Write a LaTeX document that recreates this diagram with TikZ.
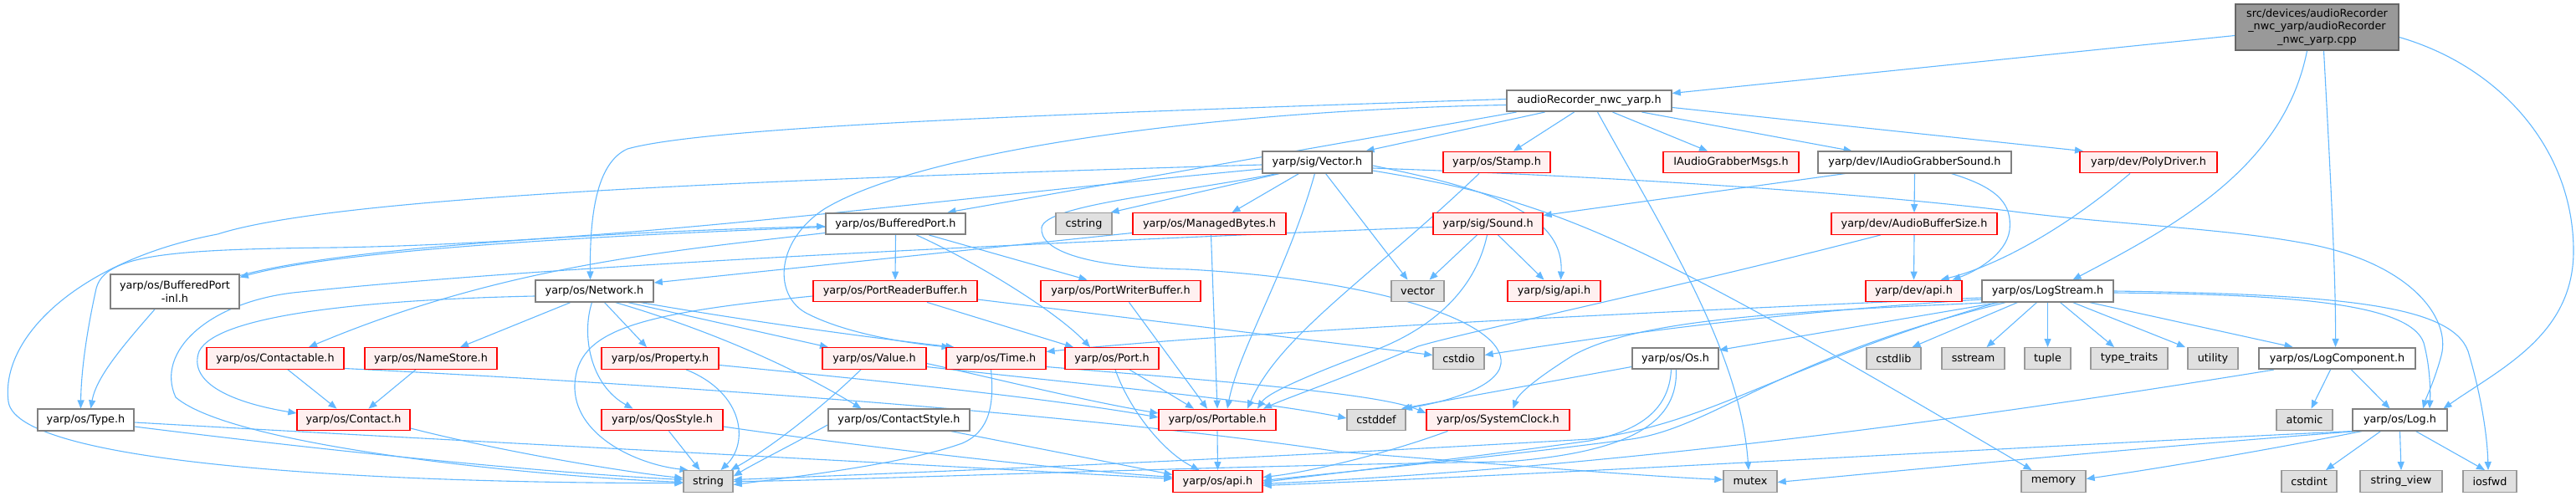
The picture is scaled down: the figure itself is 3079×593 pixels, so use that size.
\documentclass[tikz,border=0pt]{standalone}
\usepackage{fontspec}
\setmainfont{DejaVu Sans}
\usetikzlibrary{arrows.meta,backgrounds}
\definecolor{edgec}{HTML}{63B8FF}
\definecolor{gborder}{HTML}{808080}
\definecolor{rootfill}{HTML}{999999}
\definecolor{rootborder}{HTML}{666666}
\definecolor{redfill}{HTML}{FFF0F0}
\definecolor{sysfill}{HTML}{E0E0E0}
\definecolor{sysborder}{HTML}{999999}
\newcommand\dxfont{\fontsize{12.8}{15.4}\selectfont}
\tikzset{
  box/.style={draw, minimum height=25.5pt, inner sep=0pt, font=\dxfont, text=black},
  filenode/.style={box, draw=gborder, line width=1.6pt, fill=white},
  rednode/.style={box, draw=red, line width=1.3pt, fill=redfill},
  sysnode/.style={box, draw=sysborder, line width=1.4pt, fill=sysfill},
  rootnode/.style={box, draw=rootborder, line width=1.6pt, fill=rootfill, minimum height=55pt, align=center},
  inc/.style={draw=edgec, line width=1.1pt, -{Triangle[length=10pt,width=8pt]}}
}
\begin{document}
\begin{tikzpicture}[x=1pt,y=-1pt]
\useasboundingbox (0,0) rectangle (3079,593);
% row 0
\node[rootnode, minimum width=195pt] (cpp) at (2769.5,32.5) {src/devices/audioRecorder\\\_nwc\_yarp/audioRecorder\\\_nwc\_yarp.cpp};
% row 1
\node[filenode, minimum width=197pt] (ar) at (1899.5,120.5) {audioRecorder\_nwc\_yarp.h};
% row 2
\node[filenode, minimum width=131pt] (vec) at (1574.5,194) {yarp/sig/Vector.h};
\node[rednode, minimum width=128pt] (stamp) at (1789,194) {yarp/os/Stamp.h};
\node[rednode, minimum width=162pt] (iagm) at (2069,194) {IAudioGrabberMsgs.h};
\node[filenode, minimum width=231pt] (iags) at (2288.5,194) {yarp/dev/IAudioGrabberSound.h};
\node[rednode, minimum width=164pt] (poly) at (2568,194) {yarp/dev/PolyDriver.h};
% row 3
\node[filenode, minimum width=167pt] (bp) at (1070.5,267.5) {yarp/os/BufferedPort.h};
\node[sysnode, minimum width=67pt] (cstring) at (1295.5,267.5) {cstring};
\node[rednode, minimum width=183pt] (mb) at (1445.5,267.5) {yarp/os/ManagedBytes.h};
\node[rednode, minimum width=131pt] (sound) at (1778.5,267.5) {yarp/sig/Sound.h};
\node[rednode, minimum width=198pt] (abs) at (2288,267.5) {yarp/dev/AudioBufferSize.h};
% row 4
\node[filenode, minimum width=154pt, minimum height=41pt, align=center] (bpinl) at (209,348.5) {yarp/os/BufferedPort\\-inl.h};
\node[filenode, minimum width=141pt] (net) at (710.5,348) {yarp/os/Network.h};
\node[rednode, minimum width=196pt] (prb) at (1070,348) {yarp/os/PortReaderBuffer.h};
\node[rednode, minimum width=191pt] (pwb) at (1339.5,348) {yarp/os/PortWriterBuffer.h};
\node[sysnode, minimum width=63pt] (vector) at (1694.5,348) {vector};
\node[rednode, minimum width=111pt] (sigapi) at (1857.5,348) {yarp/sig/api.h};
\node[rednode, minimum width=115pt] (devapi) at (2287.5,348) {yarp/dev/api.h};
\node[filenode, minimum width=157pt] (ls) at (2447.5,348) {yarp/os/LogStream.h};
% row 5
\node[rednode, minimum width=164pt] (contactable) at (329,428.5) {yarp/os/Contactable.h};
\node[rednode, minimum width=158pt] (namestore) at (515,428.5) {yarp/os/NameStore.h};
\node[rednode, minimum width=140pt] (property) at (789,428.5) {yarp/os/Property.h};
\node[rednode, minimum width=124pt] (value) at (1045,428.5) {yarp/os/Value.h};
\node[rednode, minimum width=119pt] (time) at (1190.5,428.5) {yarp/os/Time.h};
\node[rednode, minimum width=112pt] (port) at (1329,428.5) {yarp/os/Port.h};
\node[sysnode, minimum width=61pt] (cstdio) at (1743.5,428.5) {cstdio};
\node[filenode, minimum width=103pt] (os) at (2002.5,428.5) {yarp/os/Os.h};
\node[sysnode, minimum width=65pt] (cstdlib) at (2263.5,428.5) {cstdlib};
\node[sysnode, minimum width=75pt] (sstream) at (2358.5,428.5) {sstream};
\node[sysnode, minimum width=55pt] (tuple) at (2447.5,428.5) {tuple};
\node[sysnode, minimum width=92pt] (typetraits) at (2545,428.5) {type\_traits};
\node[sysnode, minimum width=60pt] (utility) at (2645,428.5) {utility};
\node[filenode, minimum width=187pt] (lc) at (2793.5,428.5) {yarp/os/LogComponent.h};
% row 6
\node[filenode, minimum width=115pt] (type) at (102.5,502) {yarp/os/Type.h};
\node[rednode, minimum width=135pt] (contact) at (422.5,502) {yarp/os/Contact.h};
\node[rednode, minimum width=145pt] (qos) at (791.5,502) {yarp/os/QosStyle.h};
\node[filenode, minimum width=169pt] (cstyle) at (1074.5,502) {yarp/os/ContactStyle.h};
\node[rednode, minimum width=140pt] (portable) at (1455,502) {yarp/os/Portable.h};
\node[sysnode, minimum width=70pt] (cstddef) at (1645,502) {cstddef};
\node[rednode, minimum width=171pt] (sysclock) at (1790.5,502) {yarp/os/SystemClock.h};
\node[sysnode, minimum width=67pt] (atomic) at (2754.5,502) {atomic};
\node[filenode, minimum width=113pt] (log) at (2868.5,502) {yarp/os/Log.h};
% row 7
\node[sysnode, minimum width=59pt] (string) at (846.5,575.5) {string};
\node[rednode, minimum width=107pt] (osapi) at (1455.5,575.5) {yarp/os/api.h};
\node[sysnode, minimum width=64pt] (mutex) at (2092,575.5) {mutex};
\node[sysnode, minimum width=77pt] (memory) at (2454.5,575.5) {memory};
\node[sysnode, minimum width=66pt] (cstdint) at (2760,575.5) {cstdint};
\node[sysnode, minimum width=98pt] (strview) at (2870,575.5) {string\_view};
\node[sysnode, minimum width=64pt] (iosfwd) at (2976,575.5) {iosfwd};

\begin{scope}[on background layer]
% cpp
\draw[inc] ([yshift=-10pt]cpp.west) -- ([yshift=9pt]ar.east);
\draw[inc] ([xshift=-12pt]cpp.south) .. controls (2730,200) and (2600,270) .. ([xshift=30pt]ls.north);
\draw[inc] ([xshift=8pt]cpp.south) .. controls (2785,200) and (2792,330) .. ([xshift=-2pt]lc.north);
\draw[inc] ([yshift=-12pt]cpp.east) .. controls (2990,80) and (3076,180) .. (3076,300) .. controls (3076,400) and (2990,440) .. ([xshift=52pt]log.north);
% audioRecorder_nwc_yarp.h
\draw[inc] ([yshift=2pt]ar.west) .. controls (1300,135) and (850,150) .. (750,178) .. controls (712,195) and (705,260) .. ([xshift=-5pt]net.north);
\draw[inc] ([xshift=-87pt]ar.south) -- ([xshift=62pt]bp.north);
\draw[inc] ([xshift=-53pt]ar.south) -- ([xshift=58pt]vec.north);
\draw[inc] ([xshift=-18pt]ar.south) -- ([xshift=20pt]stamp.north);
\draw[inc] ([xshift=28pt]ar.south) -- ([xshift=-28pt]iagm.north);
\draw[inc] ([xshift=63pt]ar.south) -- ([xshift=-75pt]iags.north);
\draw[inc] ([yshift=-8pt]ar.east) -- ([xshift=-78pt]poly.north);
\draw[inc] ([xshift=10pt]ar.south) .. controls (1990,280) and (2080,420) .. ([xshift=-2pt]mutex.north);
\draw[inc] ([yshift=-5pt]ar.west) .. controls (1450,132) and (1100,180) .. (985,250) .. controls (925,290) and (925,355) .. (965,375) .. controls (1010,398) and (1080,410) .. ([xshift=-55pt]time.north);
% Vector.h
\draw[inc] ([yshift=-8pt]vec.west) .. controls (1100,240) and (750,290) .. (400,296) .. controls (200,298) and (125,305) .. (115,345) .. controls (105,390) and (97,440) .. ([xshift=-6pt]type.north);
\draw[inc] ([yshift=-3pt]vec.west) .. controls (900,215) and (400,235) .. (260,280) .. controls (100,310) and (0,400) .. (10,480) .. controls (20,560) and (500,578) .. ([yshift=-2pt]string.west);
\draw[inc] ([xshift=-45pt]vec.south) -- ([xshift=32pt]cstring.north);
\draw[inc] ([xshift=-22pt]vec.south) -- ([xshift=27pt]mb.north);
\draw[inc] ([xshift=-3pt]vec.south) .. controls (1540,320) and (1480,420) .. ([xshift=12pt]portable.north);
\draw[inc] ([xshift=10pt]vec.south) -- ([xshift=-12pt]vector.north);
\draw[inc] ([xshift=-48pt]vec.south) .. controls (1400,232) and (1250,245) .. (1245,272) .. controls (1242,300) and (1300,320) .. (1420,322) .. controls (1650,335) and (1800,385) .. (1794,435) .. controls (1790,465) and (1720,482) .. ([xshift=33pt]cstddef.north);
\draw[inc] ([yshift=-4pt]vec.east) .. controls (1760,222) and (1870,250) .. ([xshift=8pt]sigapi.north);
\draw[inc] ([yshift=-10pt]vec.east) .. controls (1860,240) and (1950,280) .. ([xshift=-26pt]memory.north);
\draw[inc] ([yshift=-7pt]vec.east) .. controls (1900,210) and (2200,228) .. (2400,252) .. controls (2520,268) and (2650,272) .. (2750,290) .. controls (2880,312) and (2930,380) .. (2918,425) .. controls (2910,455) and (2900,475) .. ([xshift=27.5pt]log.north);
% BufferedPort.h
\draw[inc] ([yshift=-4pt]bp.west) .. controls (700,282) and (400,300) .. ([yshift=17pt]bpinl.east);
\draw[inc] ([yshift=19pt]bpinl.east) .. controls (400,298) and (700,278) .. ([yshift=-3pt]bp.west);
\draw[inc] (bp.south) -- (prb.north);
\draw[inc] ([xshift=40pt]bp.south) -- ([xshift=-40pt]pwb.north);
\draw[inc] ([xshift=25pt]bp.south) .. controls (1160,310) and (1260,370) .. ([xshift=-26pt]port.north);
\draw[inc] ([yshift=-11pt]bp.west) .. controls (800,300) and (600,318) .. ([xshift=40pt]contactable.north);
\draw[inc] ([xshift=-24pt]bpinl.south) .. controls (150,410) and (115,450) .. ([xshift=6pt]type.north);
% PortReaderBuffer.h
\draw[inc] ([xshift=38pt]prb.south) -- ([xshift=-46pt]port.north);
\draw[inc] ([yshift=-10pt]prb.east) -- ([yshift=4pt]cstdio.west);
\draw[inc] ([yshift=-6pt]prb.west) .. controls (760,375) and (690,395) .. (687,460) .. controls (685,520) and (760,555) .. ([xshift=-24pt]string.north);
% PortWriterBuffer, Port, ManagedBytes, Stamp
\draw[inc] ([xshift=10pt]pwb.south) -- ([xshift=-12pt]portable.north);
\draw[inc] ([xshift=21pt]port.south) -- ([xshift=-28pt]portable.north);
\draw[inc] ([xshift=4pt]port.south) .. controls (1350,490) and (1390,540) .. ([xshift=-22pt]osapi.north);
\draw[inc] ([xshift=2pt]mb.south) -- (portable.north);
\draw[inc] ([yshift=-11pt]mb.west) -- ([yshift=10pt]net.east);
\draw[inc] ([xshift=-21pt]stamp.south) .. controls (1640,330) and (1530,400) .. ([xshift=36pt]portable.north);
% Sound.h
\draw[inc] ([xshift=-13pt]sound.south) -- ([xshift=14pt]vector.north);
\draw[inc] ([xshift=12pt]sound.south) -- ([xshift=-12pt]sigapi.north);
\draw[inc] ([xshift=-1pt]sound.south) .. controls (1765,340) and (1720,390) .. (1640,420) .. controls (1560,450) and (1515,470) .. ([xshift=48pt]portable.north);
\draw[inc] ([yshift=-4pt]sound.west) .. controls (1200,292) and (650,318) .. (350,350) .. controls (250,362) and (185,420) .. (210,475) .. controls (280,535) and (650,570) .. ([yshift=-1pt]string.west);
% IAudioGrabberSound.h, AudioBufferSize.h, PolyDriver.h
\draw[inc] (iags.south) -- (abs.north);
\draw[inc] ([xshift=44pt]iags.south) .. controls (2390,225) and (2405,245) .. (2402,275) .. controls (2398,305) and (2360,325) .. ([xshift=46pt]devapi.north);
\draw[inc] ([xshift=-83pt]iags.south) -- ([yshift=10pt]sound.east);
\draw[inc] (abs.south) -- (devapi.north);
\draw[inc] ([xshift=-40pt]abs.south) .. controls (2000,345) and (1760,395) .. (1695,414) .. controls (1600,455) and (1540,475) .. ([xshift=55pt]portable.north);
\draw[inc] ([xshift=-22pt]poly.south) .. controls (2460,280) and (2380,320) .. ([xshift=32pt]devapi.north);
% LogStream.h
\draw[inc] ([yshift=-8pt]ls.west) .. controls (2000,372) and (1500,395) .. ([yshift=8pt]time.east);
\draw[inc] ([yshift=-10pt]ls.west) .. controls (2100,375) and (1900,405) .. ([yshift=4pt]cstdio.east);
\draw[inc] ([xshift=-57.5pt]ls.south) -- ([yshift=10pt]os.east);
\draw[inc] ([xshift=-65pt]ls.south) .. controls (2150,372) and (1960,380) .. (1880,425) .. controls (1840,450) and (1815,470) .. ([xshift=18pt]sysclock.north);
\draw[inc] ([xshift=-36pt]ls.south) -- ([xshift=22pt]cstdlib.north);
\draw[inc] ([xshift=-13pt]ls.south) -- ([xshift=16pt]sstream.north);
\draw[inc] (ls.south) -- (tuple.north);
\draw[inc] ([xshift=15pt]ls.south) -- ([xshift=-18pt]typetraits.north);
\draw[inc] ([xshift=30pt]ls.south) -- ([xshift=-33pt]utility.north);
\draw[inc] ([xshift=50pt]ls.south) -- ([xshift=-53pt]lc.north);
\draw[inc] ([yshift=-2pt]ls.east) .. controls (2720,352) and (2880,360) .. (2897,410) .. controls (2905,440) and (2905,470) .. ([xshift=35.5pt]log.north);
\draw[inc] (ls.east) .. controls (2800,352) and (2930,365) .. (2950,420) .. controls (2965,470) and (2973,520) .. ([xshift=-2pt]iosfwd.north);
\draw[inc] ([xshift=-50pt]ls.south) .. controls (2120,430) and (2050,510) .. (1950,525) .. controls (1800,545) and (1600,565) .. ([yshift=1pt]osapi.east);
\draw[inc] ([xshift=-60pt]ls.south) .. controls (2120,440) and (2050,505) .. (1900,525) .. controls (1500,548) and (1100,565) .. ([yshift=2pt]string.east);
% Os.h
\draw[inc] ([yshift=-10pt]os.west) -- ([xshift=30pt]cstddef.north);
\draw[inc] ([xshift=-5pt]os.south) .. controls (1995,490) and (1960,515) .. (1900,527) .. controls (1750,548) and (1600,565) .. ([yshift=-1pt]osapi.east);
\draw[inc] ([xshift=1pt]os.south) .. controls (2005,500) and (1960,540) .. (1800,552) .. controls (1400,558) and (1000,575) .. (string.east);
% LogComponent.h
\draw[inc] ([xshift=-8pt]lc.south) -- ([xshift=8pt]atomic.north);
\draw[inc] ([xshift=17pt]lc.south) -- ([xshift=-12pt]log.north);
\draw[inc] ([xshift=-75.5pt]lc.south) .. controls (2300,510) and (1900,560) .. ([yshift=-3pt]osapi.east);
% Log.h
\draw[inc] ([xshift=-23pt]log.south) -- ([xshift=20pt]cstdint.north);
\draw[inc] (log.south) -- (strview.north);
\draw[inc] ([xshift=19pt]log.south) -- ([xshift=-6pt]iosfwd.north);
\draw[inc] ([xshift=12pt]log.south west) .. controls (2700,540) and (2580,560) .. ([yshift=3pt]memory.east);
\draw[inc] ([xshift=6pt]log.south west) .. controls (2500,540) and (2250,565) .. ([yshift=-1pt]mutex.east);
\draw[inc] (log.south west) .. controls (2400,535) and (1900,565) .. ([yshift=-5pt]osapi.east);
% SystemClock.h, Portable.h
\draw[inc] ([xshift=-60pt]sysclock.south) .. controls (1650,545) and (1560,565) .. ([yshift=5pt]osapi.east);
\draw[inc] (portable.south) -- (osapi.north);
% Network.h
\draw[inc] ([yshift=-6pt]net.west) .. controls (450,358) and (260,375) .. (238,420) .. controls (225,455) and (270,480) .. ([yshift=8pt]contact.west);
\draw[inc] ([xshift=-28.5pt]net.south) -- ([xshift=35pt]namestore.north);
\draw[inc] ([xshift=-3pt]net.south) .. controls (695,400) and (705,460) .. ([xshift=-35pt]qos.north);
\draw[inc] ([xshift=12pt]net.south) -- ([xshift=-16pt]property.north);
\draw[inc] ([xshift=40pt]net.south) -- ([xshift=-55pt]value.north);
\draw[inc] ([xshift=55pt]net.south) .. controls (900,385) and (1050,405) .. ([xshift=-50pt]time.north);
\draw[inc] ([xshift=25pt]net.south) .. controls (850,395) and (950,440) .. ([xshift=-45pt]cstyle.north);
% Contactable, NameStore, Contact, Property, QosStyle
\draw[inc] ([xshift=15pt]contactable.south) -- ([xshift=-20pt]contact.north);
\draw[inc] ([yshift=-12pt]contactable.east) .. controls (800,460) and (1300,495) .. (1600,540) .. controls (1850,560) and (1980,570) .. ([yshift=2pt]mutex.west);
\draw[inc] ([xshift=-18pt]namestore.south) -- ([xshift=18pt]contact.north);
\draw[inc] ([yshift=-10pt]contact.east) .. controls (600,540) and (750,565) .. ([yshift=4pt]string.west);
\draw[inc] ([xshift=31pt]property.south) .. controls (890,470) and (895,530) .. ([xshift=15pt]string.north);
\draw[inc] ([yshift=-8pt]property.east) .. controls (1000,450) and (1250,475) .. ([yshift=3pt]portable.west);
\draw[inc] ([xshift=8pt]qos.south) -- ([xshift=-10pt]string.north);
\draw[inc] ([yshift=-8pt]qos.east) .. controls (1000,530) and (1250,560) .. ([yshift=5pt]osapi.west);
% Value, Time
\draw[inc] ([yshift=-6pt]value.east) .. controls (1200,455) and (1300,480) .. ([yshift=8pt]portable.west);
\draw[inc] ([xshift=-16pt]value.south) .. controls (990,480) and (930,530) .. ([xshift=27pt]string.north);
\draw[inc] ([yshift=-10pt]value.east) .. controls (1300,460) and (1500,478) .. ([yshift=2pt]cstddef.west);
\draw[inc] ([xshift=-6pt]time.south) .. controls (1188,480) and (1185,515) .. (1150,530) .. controls (1080,555) and (950,570) .. ([yshift=-4pt]string.east);
\draw[inc] ([yshift=-10pt]time.east) .. controls (1450,455) and (1650,470) .. ([yshift=8pt]sysclock.west);
% Type, ContactStyle
\draw[inc] ([yshift=-8pt]type.east) .. controls (400,540) and (650,565) .. ([yshift=2pt]string.west);
\draw[inc] ([yshift=-3pt]type.east) .. controls (600,530) and (1100,555) .. ([yshift=3pt]osapi.west);
\draw[inc] ([yshift=-6pt]cstyle.west) .. controls (950,530) and (900,555) .. ([yshift=6pt]string.east);
\draw[inc] ([xshift=62pt]cstyle.south) -- ([yshift=8pt]osapi.west);
\end{scope}
\end{tikzpicture}
\end{document}
